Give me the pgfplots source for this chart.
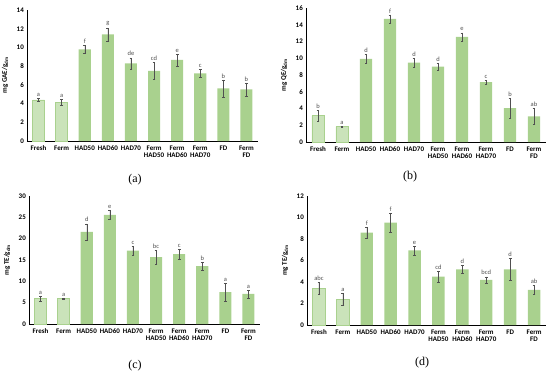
\documentclass[border=0pt]{standalone}
\usepackage{fontspec}
\setmainfont{Carlito}
\newfontfamily\subfont{Liberation Serif}
\usepackage{pgfplots}
\pgfplotsset{compat=1.18}
\usepackage{pgfplotstable}

\definecolor{darkbar}{HTML}{A9D18E}
\definecolor{lightbar}{HTML}{CAE3BA}
\definecolor{lightedge}{HTML}{A9D18E}
\definecolor{errc}{HTML}{505050}

\pgfplotstableread{
x v e l
0 4.40 0.15 a
1 4.13 0.35 a
2 9.80 0.40 f
3 11.40 0.70 g
4 8.30 0.60 de
5 7.50 0.90 cd
6 8.66 0.65 e
7 7.23 0.45 c
8 5.63 0.90 b
9 5.52 0.70 b
}\tabA
\pgfplotstableread{
x v e l
0 3.14 0.63 b
1 1.83 0.05 a
2 9.93 0.55 d
3 14.70 0.50 f
4 9.49 0.50 d
5 9.00 0.40 d
6 12.55 0.50 e
7 7.15 0.25 c
8 4.05 1.15 b
9 3.06 0.93 ab
}\tabB
\pgfplotstableread{
x v e l
0 5.95 0.60 a
1 5.95 0.20 a
2 21.60 1.90 d
3 25.60 1.10 e
4 17.20 1.10 c
5 15.66 1.60 bc
6 16.40 1.20 c
7 13.55 0.95 b
8 7.50 2.10 a
9 7.05 0.90 a
}\tabC
\pgfplotstableread{
x v e l
0 3.41 0.57 abc
1 2.39 0.56 a
2 8.59 0.50 f
3 9.52 0.85 f
4 6.95 0.42 e
5 4.50 0.50 cd
6 5.18 0.40 d
7 4.19 0.30 bcd
8 5.18 1.00 d
9 3.26 0.43 ab
}\tabD

\pgfplotsset{
  panel/.style={
    scale only axis, axis lines*=left, xmin=-0.5, xmax=9.5, ymin=0,
    xtick={0,...,9},
    xticklabels={Fresh,Ferm,HAD50,HAD60,HAD70,{Ferm\\HAD50},{Ferm\\HAD60},{Ferm\\HAD70},FD,{Ferm\\FD}},
    xticklabel style={anchor=north, text width=26pt, align=center, font=\bfseries\fontsize{7}{7.5}\selectfont, inner sep=0pt, yshift=-4.5pt},
    yticklabel style={font=\bfseries\fontsize{7}{7}\selectfont, inner sep=1pt, xshift=-2pt},
    /pgf/number format/assume math mode=true,
    major tick length=0pt,
    axis line style={black, line width=0.6pt},
    ylabel style={font=\bfseries\fontsize{7}{7}\selectfont, yshift=4pt},
    clip=false,
  },
  lightb/.style={ybar, bar width=0.52, bar shift=0pt, fill=lightbar, draw=lightedge, line width=0.5pt,
    restrict x to domain=0:1,
    error bars/.cd, y dir=both, y explicit,
    error bar style={errc, line width=0.35pt},
    error mark options={rotate=90, mark size=1.4pt, errc, line width=0.35pt}},
  darkb/.style={ybar, bar width=0.52, bar shift=0pt, fill=darkbar, draw=none,
    restrict x to domain=2:9,
    error bars/.cd, y dir=both, y explicit,
    error bar style={errc, line width=0.35pt},
    error mark options={rotate=90, mark size=1.4pt, errc, line width=0.35pt}},
  letters/.style={draw=none, mark=none, nodes near coords, point meta=explicit symbolic,
    nodes near coords style={font=\fontsize{6.5}{6.5}\selectfont, anchor=south, inner sep=1.5pt, text=errc}},
}

\begin{document}
\begin{tikzpicture}
\path[use as bounding box] (0,0) rectangle (550pt,373pt);

\begin{axis}[panel, at={(27pt,232pt)}, anchor=south west, width=231pt, height=131pt,
  ymax=14, ytick={0,2,...,14}, ylabel={mg GAE/g\textsubscript{dm}}]
\addplot[lightb] table[x=x, y=v, y error=e] {\tabA};
\addplot[darkb] table[x=x, y=v, y error=e] {\tabA};
\addplot[letters] table[x=x, y expr=\thisrow{v}+\thisrow{e}, meta=l] {\tabA};
\end{axis}

\begin{axis}[panel, at={(306pt,231pt)}, anchor=south west, width=240pt, height=134pt,
  ymax=16, ytick={0,2,...,16}, ylabel={mg QE/g\textsubscript{dm}}]
\addplot[lightb] table[x=x, y=v, y error=e] {\tabB};
\addplot[darkb] table[x=x, y=v, y error=e] {\tabB};
\addplot[letters] table[x=x, y expr=\thisrow{v}+\thisrow{e}, meta=l] {\tabB};
\end{axis}

\begin{axis}[panel, at={(29pt,49pt)}, anchor=south west, width=231pt, height=128pt,
  ymax=30, ytick={0,5,...,30}, ylabel={mg TE/g\textsubscript{dm}}]
\addplot[lightb] table[x=x, y=v, y error=e] {\tabC};
\addplot[darkb] table[x=x, y=v, y error=e] {\tabC};
\addplot[letters] table[x=x, y expr=\thisrow{v}+\thisrow{e}, meta=l] {\tabC};
\end{axis}

\begin{axis}[panel, at={(307pt,48pt)}, anchor=south west, width=239pt, height=129pt,
  ymax=12, ytick={0,2,...,12}, ylabel={mg TE/g\textsubscript{dm}}]
\addplot[lightb] table[x=x, y=v, y error=e] {\tabD};
\addplot[darkb] table[x=x, y=v, y error=e] {\tabD};
\addplot[letters] table[x=x, y expr=\thisrow{v}+\thisrow{e}, meta=l] {\tabD};
\end{axis}

\node[font=\subfont\fontsize{12}{12}\selectfont] at (135pt,193pt) {(a)};
\node[font=\subfont\fontsize{12}{12}\selectfont] at (410pt,196pt) {(b)};
\node[font=\subfont\fontsize{12}{12}\selectfont] at (135pt,7pt) {(c)};
\node[font=\subfont\fontsize{12}{12}\selectfont] at (422pt,10pt) {(d)};
\end{tikzpicture}
\end{document}
